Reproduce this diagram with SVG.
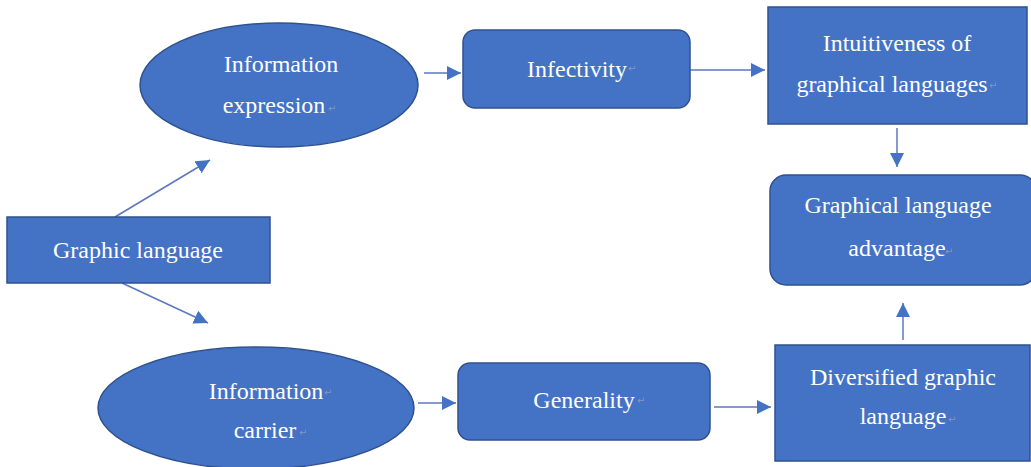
<svg xmlns="http://www.w3.org/2000/svg" width="1031" height="467" viewBox="0 0 1031 467">
<defs>
<marker id="ah" markerWidth="16" markerHeight="16" refX="14" refY="7" orient="auto" markerUnits="userSpaceOnUse">
<path d="M0,0 L14,7 L0,14 Z" fill="#4472C4"/>
</marker>
<style>
.n{fill:#4472C4;stroke:#2F528F;stroke-width:1.5}
.t{font-family:'Liberation Serif','DejaVu Serif',serif;font-size:24px;fill:#ffffff;text-anchor:middle}
.pm{font-family:'DejaVu Sans',sans-serif;font-size:10px;fill:#9aa6c6;opacity:0.7}
.c{stroke:#5b77c0;stroke-width:1.5;fill:none;marker-end:url(#ah)}
</style>
</defs>
<rect width="1031" height="467" fill="#ffffff"/>
<g id="connectors">
<line class="c" x1="115" y1="217" x2="210" y2="160"/>
<line class="c" x1="122" y1="283" x2="208" y2="323"/>
<line class="c" x1="424" y1="73" x2="461" y2="73"/>
<line class="c" x1="690" y1="70" x2="765" y2="70"/>
<line class="c" x1="897" y1="128" x2="897" y2="167"/>
<line class="c" x1="903" y1="340" x2="903" y2="303"/>
<line class="c" x1="418" y1="403" x2="456" y2="403"/>
<line class="c" x1="714" y1="407" x2="771" y2="407"/>
</g>
<g id="graphic-language">
<rect class="n" x="7" y="217" width="263" height="66"/>
<text class="t" x="138" y="258">Graphic language</text>
</g>
<g id="information-expression">
<ellipse class="n" cx="279" cy="85" rx="139" ry="62"/>
<text class="t" x="281" y="72">Information</text>
<text class="t" x="274" y="113">expression</text>
<text class="pm" x="328" y="112">↵</text>
</g>
<g id="infectivity">
<rect class="n" x="463" y="30" width="227" height="78" rx="12"/>
<text class="t" x="577" y="77">Infectivity</text>
<text class="pm" x="628" y="72">↵</text>
</g>
<g id="intuitiveness">
<rect class="n" x="768" y="7" width="259" height="117"/>
<text class="t" x="897" y="51">Intuitiveness of</text>
<text class="t" x="892" y="92">graphical languages</text>
<text class="pm" x="989" y="89">↵</text>
</g>
<g id="graphical-language-advantage">
<rect class="n" x="770" y="175" width="266" height="110" rx="16"/>
<text class="t" x="898" y="213">Graphical language</text>
<text class="t" x="897" y="256">advantage</text>
<text class="pm" x="945" y="255">↵</text>
</g>
<g id="information-carrier">
<ellipse class="n" cx="256" cy="408" rx="158" ry="61"/>
<text class="t" x="266" y="399">Information</text>
<text class="pm" x="324" y="396">↵</text>
<text class="t" x="265" y="438">carrier</text>
<text class="pm" x="299" y="436">↵</text>
</g>
<g id="generality">
<rect class="n" x="458" y="363" width="252" height="77" rx="12"/>
<text class="t" x="584" y="408">Generality</text>
<text class="pm" x="637" y="404">↵</text>
</g>
<g id="diversified">
<rect class="n" x="775" y="345" width="255" height="116"/>
<text class="t" x="903" y="385">Diversified graphic</text>
<text class="t" x="903" y="424">language</text>
<text class="pm" x="948" y="423">↵</text>
</g>
</svg>
